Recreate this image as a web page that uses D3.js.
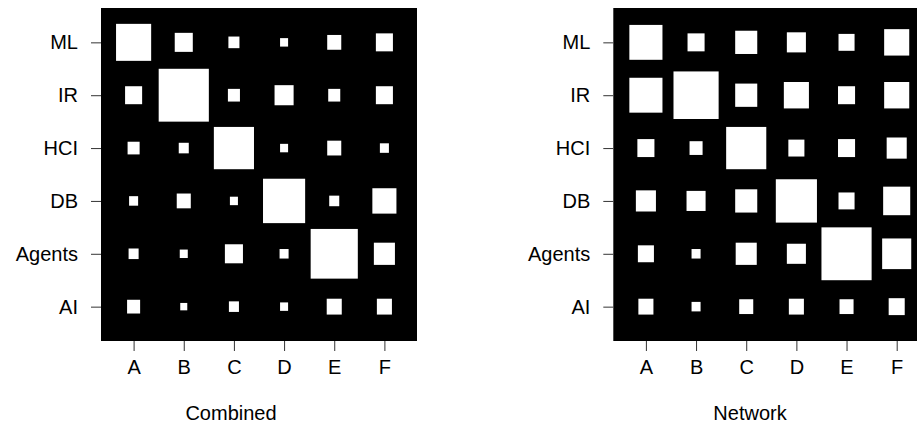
<!DOCTYPE html>
<html>
<head>
<meta charset="utf-8">
<script src="https://cdn.jsdelivr.net/npm/d3@7"></script>
<style>
  body { margin: 0; background: #fff; }
  svg text { font-family: "Liberation Sans", Arial, sans-serif; fill: #000; }
</style>
</head>
<body>
<div id="chart"></div>
<script>
// categories
const rowLabels = ["ML", "IR", "HCI", "DB", "Agents", "AI"];
const colLabels = ["A", "B", "C", "D", "E", "F"];

// square side as a fraction of the cell
const combinedVals = [
    [0.70, 0.36, 0.22, 0.16, 0.28, 0.34],
    [0.34, 1.00, 0.24, 0.38, 0.24, 0.34],
    [0.24, 0.20, 0.80, 0.16, 0.28, 0.18],
    [0.18, 0.28, 0.16, 0.84, 0.20, 0.48],
    [0.20, 0.16, 0.36, 0.18, 0.94, 0.42],
    [0.26, 0.14, 0.20, 0.16, 0.30, 0.30]
];
const networkVals = [
    [0.66, 0.34, 0.44, 0.38, 0.32, 0.50],
    [0.66, 0.90, 0.44, 0.50, 0.34, 0.50],
    [0.34, 0.26, 0.80, 0.32, 0.34, 0.40],
    [0.40, 0.38, 0.44, 0.82, 0.32, 0.54],
    [0.32, 0.18, 0.42, 0.38, 1.00, 0.58],
    [0.30, 0.18, 0.28, 0.30, 0.28, 0.32]
];

const W = 917, H = 423;
const svg = d3.select("#chart").append("svg")
    .attr("width", W).attr("height", H);

function draw_panel(left, values, title, titleX) {
    const top = 8, width = 316, height = 333;
    const g = svg.append("g").attr("transform", `translate(${left},${top})`);

    const x = d3.scalePoint().domain(colLabels).range([0, width]).padding(0.65);
    const y = d3.scalePoint().domain(rowLabels).range([0, height]).padding(0.65);
    const cw = x.step(), ch = y.step();

    g.append("rect")
        .attr("width", width).attr("height", height)
        .attr("fill", "#000");

    const cells = [];
    values.forEach((row, i) => row.forEach((v, j) => cells.push({r: rowLabels[i], c: colLabels[j], v})));

    g.selectAll("rect.cell").data(cells).enter().append("rect")
        .attr("class", "cell")
        .attr("x", d => x(d.c) - d.v * cw / 2)
        .attr("y", d => y(d.r) - d.v * ch / 2)
        .attr("width", d => d.v * cw)
        .attr("height", d => d.v * ch)
        .attr("fill", "#fff");

    // axes, R style: ticks outside the box
    const xAxis = g.append("g")
        .attr("transform", `translate(0,${height})`)
        .call(d3.axisBottom(x).tickSize(10).tickPadding(9));
    const yAxis = g.append("g")
        .call(d3.axisLeft(y).tickSize(10).tickPadding(13));
    [xAxis, yAxis].forEach(a => {
        a.select(".domain").remove();
        a.selectAll("line").attr("stroke", "#333");
        a.selectAll("text").style("font-size", "20px")
            .style("font-family", "'Liberation Sans', Arial, sans-serif");
    });

    svg.append("text")
        .attr("x", titleX).attr("y", 420)
        .attr("text-anchor", "middle")
        .style("font-size", "20px")
        .text(title);
}

draw_panel(101, combinedVals, "Combined", 231);
draw_panel(613.3, networkVals, "Network", 750);
</script>
</body>
</html>
